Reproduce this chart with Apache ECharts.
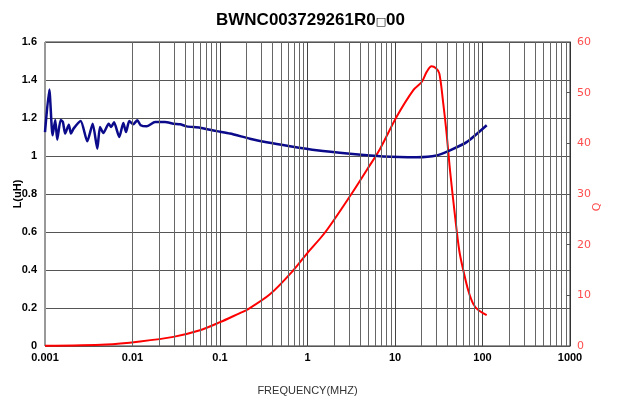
<!DOCTYPE html>
<html>
<head>
<meta charset="utf-8">
<script src="https://cdn.jsdelivr.net/npm/echarts@6/dist/echarts.min.js"></script>
<style>html,body{margin:0;padding:0;background:#fff}#c{width:621px;height:403px}</style>
</head>
<body>
<div id="c"></div>
<script>
// ---- data ----
const titleText = 'BWNC003729261R0{s|□}00';
const freqTickLabels = ['0.001', '0.01', '0.1', '1', '10', '100', '1000'];
const freqL = [0.001, 0.00112, 0.00122, 0.00131, 0.00138, 0.00151, 0.0016, 0.0017, 0.00187, 0.00198, 0.00212, 0.00256, 0.00304, 0.00351, 0.00396, 0.00425, 0.00464, 0.00535, 0.0057, 0.00615, 0.00706, 0.00785, 0.00843, 0.00919, 0.0102, 0.01135, 0.0124, 0.0145, 0.0181, 0.0235, 0.0293, 0.035, 0.0416, 0.059, 0.0917, 0.13, 0.22, 0.341, 0.631, 1.27, 3.06, 7.35, 17.7, 29.9, 42.5, 65.9, 111.7];
const valL = [1.126, 1.35, 1.109, 1.19, 1.086, 1.19, 1.18, 1.118, 1.165, 1.118, 1.144, 1.184, 1.077, 1.17, 1.038, 1.153, 1.121, 1.17, 1.153, 1.177, 1.1, 1.174, 1.126, 1.184, 1.167, 1.188, 1.162, 1.156, 1.179, 1.179, 1.17, 1.167, 1.156, 1.149, 1.131, 1.118, 1.091, 1.072, 1.051, 1.03, 1.012, 0.998, 0.994, 1.003, 1.03, 1.073, 1.162];
const freqQ = [0.001, 0.005, 0.0122, 0.0293, 0.059, 0.1, 0.169, 0.202, 0.372, 0.686, 0.98, 1.585, 3.12, 4.74, 6.74, 10.4, 16.2, 20.2, 23, 26.2, 29.4, 32.1, 35.6, 38.9, 42.5, 48.5, 54.3, 60.4, 68.9, 78.6, 89.6, 111.7];
const valQ = [0.05, 0.3, 0.9, 1.8, 3.1, 4.7, 6.5, 7.1, 10.2, 14.9, 18.2, 22.4, 29.8, 34.7, 38.9, 45.2, 50.5, 52.1, 54.1, 55.2, 54.8, 53.8, 47.9, 41.9, 34.7, 25.7, 18.8, 14.9, 10.9, 8.26, 7.1, 6.1];

// minor log gridlines (2..9 of each decade)
const minorTicks = [];
for (let d = -3; d < 3; d++) {
  for (let m = 2; m <= 9; m++) minorTicks.push(+(m * Math.pow(10, d)).toPrecision(3));
}

const chart = echarts.init(document.getElementById('c'), null, {renderer: 'canvas'});
chart.setOption({
  animation: false,
  title: {
    text: titleText, left: 'center', top: 7,
    textStyle: {fontFamily: 'Liberation Sans, Arial', fontWeight: 'bold', fontSize: 17, color: '#000',
      rich: {s: {fontSize: 11, fontFamily: 'DejaVu Sans', fontWeight: 'normal', color: '#000', padding: [4, 0, 0, 0]}}}
  },
  grid: {left: 45, right: 51, top: 42, bottom: 57, show: true, borderColor: '#333', borderWidth: 1,
    containLabel: false, outerBoundsMode: 'none'},
  xAxis: {
    type: 'log', logBase: 10, min: 0.001, max: 1000,
    name: 'FREQUENCY(MHZ)', nameLocation: 'middle', nameGap: 39, nameMoveOverlap: false,
    nameTextStyle: {fontFamily: 'Liberation Sans, Arial', fontSize: 11, color: '#333'},
    axisLine: {show: false}, axisTick: {show: false},
    axisLabel: {fontFamily: 'Liberation Sans, Arial', fontWeight: 'bold', fontSize: 11, color: '#000', margin: 6,
      formatter: v => freqTickLabels[Math.round(Math.log10(v)) + 3]},
    splitLine: {show: true, lineStyle: {color: '#444', width: 1}}
  },
  yAxis: [{
    type: 'value', min: 0, max: 1.6, interval: 0.2, position: 'left',
    name: 'L(uH)', nameLocation: 'middle', nameGap: 22, nameRotate: 90, nameMoveOverlap: false,
    nameTextStyle: {fontFamily: 'Liberation Sans, Arial', fontWeight: 'bold', fontSize: 11, color: '#000'},
    axisLine: {show: true, lineStyle: {color: '#999'}}, axisTick: {show: false},
    axisLabel: {fontFamily: 'Liberation Sans, Arial', fontWeight: 'bold', fontSize: 11, color: '#000', margin: 8},
    splitLine: {show: true, lineStyle: {color: '#555', width: 1}}
  }, {
    type: 'value', min: 0, max: 60, interval: 10, position: 'right',
    name: 'Q', nameLocation: 'middle', nameGap: 22, nameRotate: 90, nameMoveOverlap: false,
    nameTextStyle: {fontFamily: 'DejaVu Sans', fontSize: 11, color: '#ff4d4d', padding: [0, 26, 0, 0]},
    axisLine: {show: true, lineStyle: {color: '#333'}},
    axisTick: {show: true, inside: true, length: 3, lineStyle: {color: '#555'}},
    axisLabel: {fontFamily: 'DejaVu Sans', fontSize: 11, color: '#ff4d4d', margin: 7},
    splitLine: {show: false}
  }],
  series: [{
    name: 'Q', type: 'line', yAxisIndex: 1, showSymbol: false, smooth: 0.3,
    data: freqQ.map((f, i) => [f, valQ[i]]),
    lineStyle: {color: '#ff0000', width: 2}, z: 3,
    markLine: {
      silent: true, symbol: 'none', label: {show: false}, animation: false,
      lineStyle: {color: '#666', type: 'solid', width: 1},
      data: minorTicks.map(v => ({xAxis: v}))
    }
  }, {
    name: 'L', type: 'line', yAxisIndex: 0, showSymbol: false, smooth: 0.2,
    data: freqL.map((f, i) => [f, valL[i]]),
    lineStyle: {color: '#0a0a8a', width: 2.5}, z: 4
  }]
});
</script>
</body>
</html>
